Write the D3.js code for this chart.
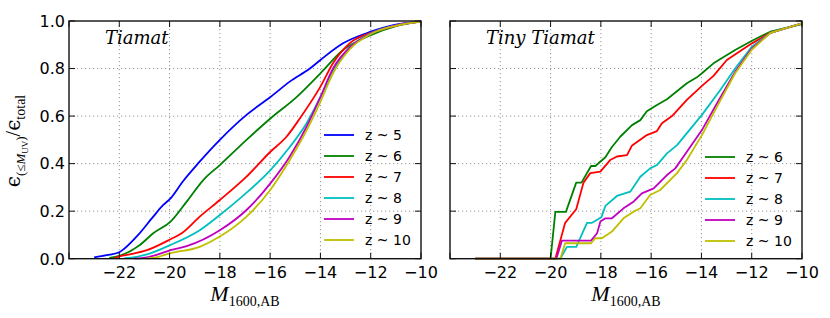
<!DOCTYPE html>
<html lang="en">
<head>
<meta charset="UTF-8">
<title>Cumulative UV emissivity</title>
<style>
  body { margin: 0; background: #fff; }
  .tick-label { font: 16px "DejaVu Sans", sans-serif; fill: #000; }
  .legend text { font: 14px "DejaVu Sans", sans-serif; fill: #000; }
  .grid line { stroke: #8a8a8a; stroke-width: 0.9; stroke-dasharray: 1.2,2.8; }
  .series { fill: none; stroke-width: 1.8; stroke-linejoin: round; }
</style>
</head>
<body>
<svg width="830" height="318"></svg>
<script src="https://d3js.org/d3.v7.min.js"></script>
<script>
// redshift labels and colours (matplotlib classic cycle)
const redshifts = ["z ~ 5", "z ~ 6", "z ~ 7", "z ~ 8", "z ~ 9", "z ~ 10"];
const colors = ["#0000ff", "#008000", "#ff0000", "#00bfbf", "#bf00bf", "#bfbf00"];

const xTicks = [-22, -20, -18, -16, -14, -12, -10];
const yTicks = [0, 0.2, 0.4, 0.6, 0.8, 1.0];

// Tiamat: [M1600, cumulative fraction]
const tiamatZ5 = [[-23.0,0.006],[-22.5,0.015],[-22,0.027],[-21.78,0.044],[-21.25,0.10],[-20.65,0.177],[-20.25,0.226],[-19.96,0.254],[-19.48,0.324],[-18.83,0.405],[-18.0,0.50],[-16.94,0.605],[-15.99,0.68],[-15.22,0.745],[-14.42,0.80],[-14.0,0.836],[-13.1,0.906],[-12.0,0.955],[-11.1,0.983],[-10,0.997]];
const tiamatZ6 = [[-22.4,0.003],[-22,0.012],[-21.18,0.058],[-20.65,0.107],[-19.96,0.156],[-19.32,0.24],[-18.66,0.331],[-18.0,0.394],[-16.94,0.50],[-15.99,0.59],[-14.95,0.68],[-14.0,0.78],[-13.1,0.878],[-12.0,0.94],[-11,0.978],[-10,0.997]];
const tiamatZ7 = [[-22.2,0.002],[-22,0.01],[-21.5,0.02],[-20.9,0.036],[-19.96,0.082],[-19.52,0.107],[-18.8,0.177],[-18.0,0.247],[-16.94,0.345],[-15.99,0.45],[-15.35,0.513],[-14.82,0.59],[-14.0,0.724],[-13.5,0.822],[-12.84,0.906],[-12,0.95],[-11,0.98],[-10,0.997]];
const tiamatZ8 = [[-21.8,0.002],[-21.3,0.008],[-20.9,0.018],[-19.96,0.058],[-18.8,0.12],[-18.0,0.184],[-17.2,0.254],[-15.99,0.373],[-15.22,0.47],[-14.55,0.57],[-14.0,0.68],[-13.5,0.79],[-12.84,0.888],[-12,0.948],[-11,0.982],[-10,0.997]];
const tiamatZ9 = [[-21.4,0.001],[-20.9,0.006],[-20.52,0.016],[-19.96,0.036],[-19.32,0.053],[-18.0,0.12],[-16.94,0.205],[-15.99,0.317],[-15.22,0.43],[-14.55,0.555],[-14.0,0.68],[-13.5,0.80],[-12.84,0.888],[-12,0.947],[-11,0.982],[-10,0.997]];
const tiamatZ10 = [[-20.9,0.001],[-20.45,0.008],[-19.96,0.023],[-18.8,0.05],[-18.0,0.093],[-16.94,0.177],[-15.99,0.29],[-15.22,0.415],[-14.55,0.54],[-14.0,0.66],[-13.5,0.78],[-12.84,0.88],[-12,0.945],[-11,0.98],[-10,0.997]];

// Tiny Tiamat (no z~5)
const tinyZ6 = [[-23,0],[-20.0,0],[-19.81,0.197],[-19.39,0.197],[-18.98,0.32],[-18.77,0.32],[-18.39,0.39],[-18.22,0.39],[-17.82,0.427],[-17.56,0.47],[-17.23,0.513],[-16.76,0.562],[-16.43,0.583],[-16.17,0.62],[-15.77,0.647],[-15.37,0.671],[-14.58,0.738],[-14.18,0.763],[-13.98,0.78],[-13.52,0.822],[-12.66,0.878],[-11.99,0.917],[-11.26,0.955],[-10,0.987]];
const tinyZ7 = [[-23,0],[-19.81,0],[-19.42,0.151],[-18.98,0.208],[-18.69,0.32],[-18.42,0.36],[-18.02,0.366],[-17.63,0.415],[-17.36,0.43],[-16.96,0.436],[-16.77,0.475],[-16.17,0.52],[-15.77,0.537],[-15.57,0.57],[-15.17,0.60],[-14.58,0.668],[-13.98,0.727],[-13.52,0.769],[-12.99,0.836],[-11.99,0.906],[-11.26,0.95],[-10,0.99]];
const tinyZ8 = [[-23,0],[-19.61,0],[-19.35,0.05],[-18.98,0.05],[-18.55,0.151],[-18.35,0.151],[-17.98,0.174],[-17.82,0.222],[-17.36,0.264],[-16.83,0.282],[-16.43,0.345],[-16.04,0.38],[-15.77,0.394],[-15.37,0.443],[-14.97,0.478],[-13.98,0.605],[-13.25,0.71],[-12.66,0.80],[-11.99,0.892],[-11.26,0.95],[-10,0.99]];
const tinyZ9 = [[-23,0],[-19.77,0],[-19.55,0.076],[-18.39,0.076],[-18.15,0.107],[-18.02,0.156],[-17.82,0.17],[-17.56,0.17],[-17.1,0.212],[-16.7,0.24],[-16.37,0.275],[-15.9,0.296],[-15.37,0.352],[-15.04,0.38],[-14.58,0.45],[-13.98,0.541],[-13.38,0.654],[-12.66,0.786],[-11.99,0.885],[-11.26,0.95],[-10,0.99]];
const tinyZ10 = [[-23,0],[-19.61,0],[-19.42,0.065],[-18.39,0.065],[-18.22,0.086],[-17.96,0.086],[-17.56,0.114],[-17.1,0.17],[-16.7,0.198],[-16.43,0.212],[-16.04,0.268],[-15.64,0.289],[-14.97,0.36],[-14.58,0.415],[-13.98,0.52],[-13.38,0.64],[-12.66,0.78],[-11.99,0.88],[-11.26,0.95],[-10,0.99]];

const panels = [
  { title: "Tiamat", left: 69, series: [tiamatZ5, tiamatZ6, tiamatZ7, tiamatZ8, tiamatZ9, tiamatZ10], first: 0,
    curve: d3.curveMonotoneX, legendX: 324, legendY: 135, yLabels: true },
  { title: "Tiny Tiamat", left: 450, series: [tinyZ6, tinyZ7, tinyZ8, tinyZ9, tinyZ10], first: 1,
    curve: d3.curveLinear, legendX: 705, legendY: 157, yLabels: false }
];

const pw = 352, yTop = 21, yBottom = 258.7;
const svg = d3.select("svg");

const y = d3.scaleLinear().domain([0, 1]).range([yBottom, yTop]);

panels.forEach(p => {
  const x = d3.scaleLinear().domain([-24, -10]).range([p.left, p.left + pw]);
  const g = svg.append("g");

  // dotted grid
  const grid = g.append("g").attr("class", "grid");
  grid.selectAll("line.v").data(xTicks.filter(t => t > -24 && t < -10)).enter().append("line")
    .attr("x1", d => x(d)).attr("x2", d => x(d)).attr("y1", yTop).attr("y2", yBottom);
  grid.selectAll("line.h").data(yTicks.filter(t => t > 0 && t < 1)).enter().append("line")
    .attr("x1", p.left).attr("x2", p.left + pw).attr("y1", d => y(d)).attr("y2", d => y(d));

  // curves
  const line = d3.line().x(d => x(d[0])).y(d => y(d[1])).curve(p.curve);
  g.selectAll("path.series").data(p.series).enter().append("path")
    .attr("class", "series")
    .attr("stroke", (d, i) => colors[i + p.first])
    .attr("d", line);

  // frame and inward ticks
  g.append("rect").attr("x", p.left).attr("y", yTop).attr("width", pw).attr("height", yBottom - yTop)
    .attr("fill", "none").attr("stroke", "#111").attr("stroke-width", 1.4);
  const tl = 6;
  xTicks.concat([-24]).forEach(t => {
    g.append("line").attr("x1", x(t)).attr("x2", x(t)).attr("y1", yBottom).attr("y2", yBottom - tl).attr("stroke", "#111");
    g.append("line").attr("x1", x(t)).attr("x2", x(t)).attr("y1", yTop).attr("y2", yTop + tl).attr("stroke", "#111");
  });
  yTicks.forEach(t => {
    g.append("line").attr("x1", p.left).attr("x2", p.left + tl).attr("y1", y(t)).attr("y2", y(t)).attr("stroke", "#111");
    g.append("line").attr("x1", p.left + pw).attr("x2", p.left + pw - tl).attr("y1", y(t)).attr("y2", y(t)).attr("stroke", "#111");
  });

  // tick labels
  g.selectAll("text.xt").data(xTicks).enter().append("text")
    .attr("class", "tick-label").attr("text-anchor", "middle")
    .attr("x", d => x(d)).attr("y", 277.7)
    .text(d => d3.format(".0f")(d).replace("-", "\u2212"));
  if (p.yLabels) {
    g.selectAll("text.yt").data(yTicks).enter().append("text")
      .attr("class", "tick-label").attr("text-anchor", "end")
      .attr("x", p.left - 4).attr("y", d => y(d) + 5.8)
      .text(d => d3.format(".1f")(d));
  }

  // panel title
  g.append("text").attr("x", p.left + 36).attr("y", 44)
    .attr("font-family", "DejaVu Serif").attr("font-style", "italic").attr("font-size", 18)
    .text(p.title);

  // x label
  const xl = g.append("text").attr("x", p.left + pw / 2).attr("y", 301).attr("text-anchor", "middle")
    .attr("font-family", "Liberation Serif, DejaVu Serif");
  xl.append("tspan").attr("font-style", "italic").attr("font-size", 22).text("M");
  xl.append("tspan").attr("font-size", 14).attr("dy", 5).text("1600,AB");

  // legend
  const lg = g.append("g").attr("class", "legend");
  p.series.forEach((s, i) => {
    const ly = p.legendY + i * 21;
    lg.append("line").attr("x1", p.legendX).attr("x2", p.legendX + 30).attr("y1", ly).attr("y2", ly)
      .attr("stroke", colors[i + p.first]).attr("stroke-width", 1.8);
    lg.append("text").attr("x", p.legendX + 41).attr("y", ly + 5).text(redshifts[i + p.first]);
  });
});

// y label
const yl = svg.append("text").attr("transform", "translate(20,141) rotate(-90)")
  .attr("text-anchor", "middle").attr("font-family", "Liberation Serif, DejaVu Serif");
yl.append("tspan").attr("font-size", 20).attr("font-family", "DejaVu Serif").text("\u03f5");
yl.append("tspan").attr("font-size", 13).attr("dy", 5).text("(\u2264");
yl.append("tspan").attr("font-size", 13).attr("font-style", "italic").text("M");
yl.append("tspan").attr("font-size", 9).attr("dy", 3).text("UV");
yl.append("tspan").attr("font-size", 13).attr("dy", -3).text(")");
yl.append("tspan").attr("font-size", 20).attr("dy", -5).text("/");
yl.append("tspan").attr("font-size", 20).attr("font-family", "DejaVu Serif").text("\u03f5");
yl.append("tspan").attr("font-size", 14).attr("dy", 5).text("total");
</script>
</body>
</html>
